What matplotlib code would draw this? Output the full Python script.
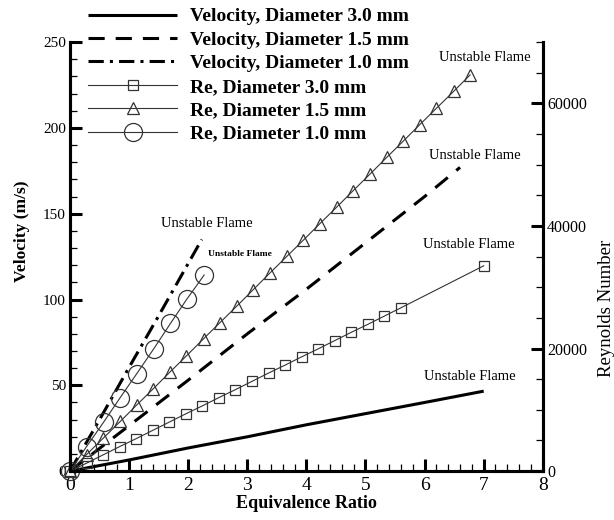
import matplotlib
matplotlib.use('Agg')
import matplotlib.pyplot as plt
from matplotlib.ticker import MultipleLocator

plt.rcParams['font.family'] = ['Liberation Serif', 'DejaVu Serif']

# Velocity (m/s) vs equivalence ratio
x_v30 = [0, 1, 2, 3, 4, 5, 6, 7.0]
v_v30 = [0, 6.5, 13.5, 20, 27, 33.5, 40, 46.6]
x_v15 = [0, 1, 2, 3, 4, 5, 6, 6.6]
v_v15 = [0, 26.5, 53, 80, 106, 133, 160, 177]
x_v10 = [0, 0.5, 1, 1.5, 2, 2.23]
v_v10 = [0, 30, 60.5, 90.5, 121, 135]

# Reynolds number vs equivalence ratio
x_re30 = [0, 0.28, 0.56, 0.84, 1.12, 1.40, 1.68, 1.96, 2.24, 2.52, 2.80,
          3.08, 3.36, 3.64, 3.92, 4.20, 4.48, 4.76, 5.04, 5.32, 5.60, 7.0]
re_re30 = [0, 1300, 2650, 4000, 5300, 6650, 8000, 9350, 10650, 12000, 13300,
           14650, 16000, 17300, 18650, 19950, 21300, 22650, 23950, 25300, 26650, 33500]
x_re15 = [0, 0.28, 0.56, 0.85, 1.13, 1.41, 1.69, 1.97, 2.26, 2.54, 2.82, 3.10,
          3.38, 3.67, 3.95, 4.23, 4.51, 4.79, 5.08, 5.36, 5.64, 5.92, 6.20, 6.49, 6.77]
re_re15 = [0, 2700, 5350, 8100, 10800, 13450, 16150, 18800, 21600, 24250, 26900, 29600,
           32300, 35050, 37700, 40400, 43050, 45750, 48500, 51200, 53850, 56550, 59200, 61950, 64650]
x_re10 = [0, 0.28, 0.57, 0.85, 1.13, 1.42, 1.70, 1.98, 2.27]
re_re10 = [0, 4000, 8000, 12000, 15900, 20000, 24100, 28100, 32000]

fig = plt.figure(figsize=(6.14, 5.2), dpi=100)
ax = fig.add_axes([0.114, 0.094, 0.770, 0.825])
ax2 = ax.twinx()

# velocity lines
l1, = ax.plot(x_v30, v_v30, color='black', lw=2.2, solid_capstyle='butt')
l2, = ax.plot(x_v15, v_v15, color='black', lw=2.2, dashes=(5.3, 3.6))
l3, = ax.plot(x_v10, v_v10, color='black', lw=2.2, dashes=(5, 2, 1, 2))

# Reynolds lines
mk = dict(color='#333333', lw=0.8, markerfacecolor='none',
          markeredgecolor='#333333', markeredgewidth=0.9, clip_on=False)
l4, = ax2.plot(x_re30, re_re30, marker='s', markersize=7.5, **mk)
l5, = ax2.plot(x_re15, re_re15, marker='^', markersize=9, **mk)
l6, = ax2.plot(x_re10, re_re10, marker='o', markersize=13, **mk)

ax.set_xlim(0, 8)
ax.set_ylim(0, 250)
ax2.set_ylim(0, 70000)

ax.xaxis.set_major_locator(MultipleLocator(1))
ax.xaxis.set_minor_locator(MultipleLocator(0.2))
ax.yaxis.set_major_locator(MultipleLocator(50))
ax.yaxis.set_minor_locator(MultipleLocator(10))
ax2.yaxis.set_major_locator(MultipleLocator(20000))
ax2.yaxis.set_minor_locator(MultipleLocator(5000))

for a in (ax, ax2):
    a.spines['top'].set_visible(False)
    for s in ('left', 'right', 'bottom'):
        a.spines[s].set_linewidth(2.2)
    a.tick_params(which='major', direction='in', length=8.5, width=2.2)
    a.tick_params(which='minor', direction='in', length=5, width=0.9)

ax.tick_params(axis='x', which='major', labelsize=14, pad=4)
ax.tick_params(axis='y', which='major', labelsize=11, pad=3)
ax2.tick_params(axis='y', which='major', labelsize=11.5, pad=3)
ax.tick_params(axis='x', which='both', top=False)

ax.set_xlabel('Equivalence Ratio', fontsize=13, fontweight='bold')
ax.set_ylabel('Velocity (m/s)', fontsize=12.5, fontweight='bold')
ax2.set_ylabel('Reynolds Number', fontsize=13.5)
ax.xaxis.set_label_coords(0.5, -0.056)
ax.yaxis.set_label_coords(-0.085, 0.56)
ax2.yaxis.set_label_coords(1.116, 0.38)

# annotations
ax.text(7.02, 241, 'Unstable Flame', fontsize=10.5, ha='center', va='center')
ax.text(6.85, 184, 'Unstable Flame', fontsize=10.5, ha='center', va='center')
ax.text(6.75, 132, 'Unstable Flame', fontsize=10.5, ha='center', va='center')
ax.text(6.77, 55, 'Unstable Flame', fontsize=10.5, ha='center', va='center')
ax.text(2.32, 144.5, 'Unstable Flame', fontsize=10.5, ha='center', va='center')
ax.text(2.88, 126.5, 'Unstable Flame', fontsize=6.8, fontweight='bold',
        ha='center', va='center')

handles = [l1, l2, l3, l4, l5, l6]
labels = ['Velocity, Diameter 3.0 mm', 'Velocity, Diameter 1.5 mm',
          'Velocity, Diameter 1.0 mm', 'Re, Diameter 3.0 mm',
          'Re, Diameter 1.5 mm', 'Re, Diameter 1.0 mm']
fig.legend(handles, labels, loc='upper left', bbox_to_anchor=(0.143, 0.985),
           frameon=False, prop={'weight': 'bold', 'size': 14},
           handlelength=4.6, handletextpad=0.67, labelspacing=0.3,
           borderpad=0, borderaxespad=0)

fig.savefig('out.png', dpi=100)
